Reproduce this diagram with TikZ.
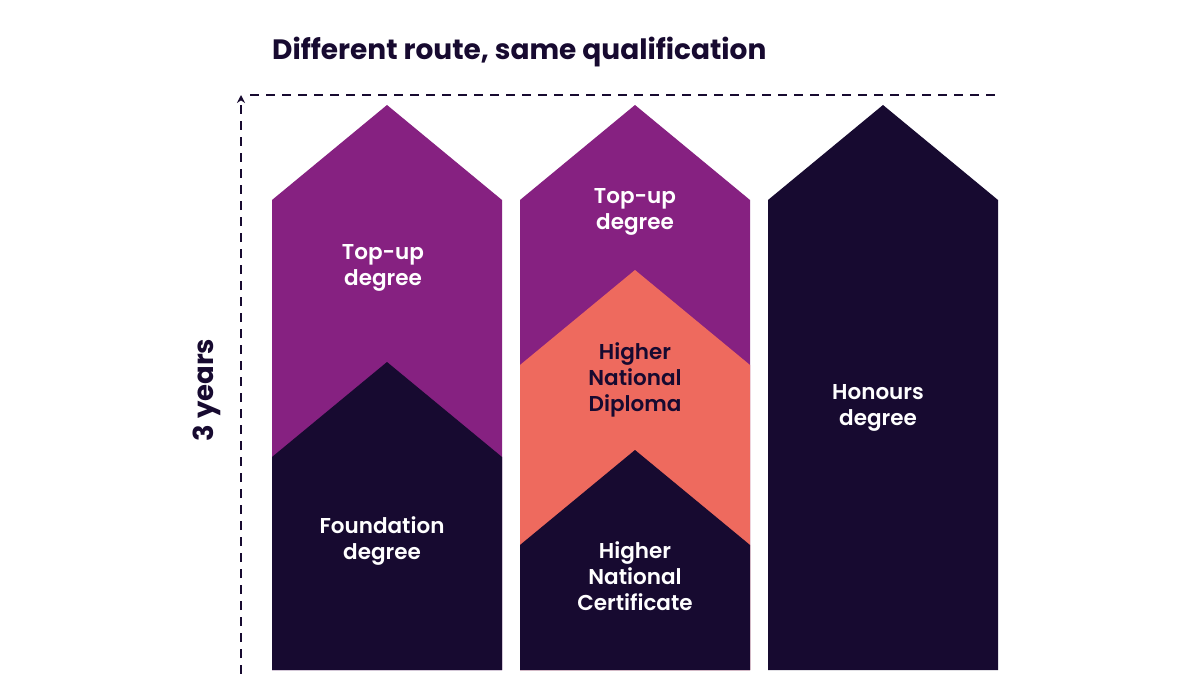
\documentclass[tikz,border=0pt]{standalone}
\usepackage{fontspec}
\setmainfont{Poppins}
\newfontfamily\semib{Poppins SemiBold}
\newfontfamily\boldp{Poppins Bold}
\usetikzlibrary{arrows.meta}
\definecolor{purp}{HTML}{862181}
\definecolor{navy}{HTML}{170A30}
\definecolor{salmon}{HTML}{EE6A5E}
\begin{document}
\begin{tikzpicture}[x=1pt,y=-1pt,
  lbl/.style={font=\semib\fontsize{21.5}{26}\selectfont, align=center, text=white, inner sep=0pt},
  axis/.style={navy, line width=2.5pt, dash pattern=on 9pt off 7pt}]
\useasboundingbox (0,0) rectangle (1200,674);
\fill[white] (0,0) rectangle (1200,674);
% column 1
\fill[purp] (272,670) -- (272,200) -- (387,105) -- (502,200) -- (502,670) -- cycle;
\fill[navy] (272,670) -- (272,457) -- (387,362) -- (502,457) -- (502,670) -- cycle;
% column 2
\fill[purp] (520,670) -- (520,200) -- (635,105) -- (750,200) -- (750,670) -- cycle;
\fill[salmon] (520,670) -- (520,365) -- (635,270) -- (750,365) -- (750,670) -- cycle;
\fill[navy] (520,670) -- (520,545) -- (635,450) -- (750,545) -- (750,670) -- cycle;
% column 3
\fill[navy] (768,670) -- (768,200) -- (883,105) -- (998,200) -- (998,670) -- cycle;
% labels
\node[lbl] (top1) at (383,268) {Top-up\\degree};
\node[lbl] (found) at (382,541) {Foundation\\degree};
\node[lbl] (top2) at (635,212) {Top-up\\degree};
\node[lbl, text=navy] (hnd) at (635,380) {Higher\\National\\Diploma};
\node[lbl] (hnc) at (635,576) {Higher\\National\\Certificate};
\node[lbl] (hon) at (878,408) {Honours\\degree};
% title and axis
\node[font=\boldp\fontsize{28}{32}\selectfont, text=navy, anchor=base west, inner sep=0pt] (title) at (272,60) {Different route, same qualification};
\node[font=\boldp\fontsize{27.5}{30}\selectfont, text=navy, rotate=90, inner sep=0pt] (yrs) at (207,390) {3 years};
\coordinate (ybot) at (241,674);
\coordinate (ytop) at (241,95);
\coordinate (xl) at (250,95);
\coordinate (xr) at (1000,95);
\draw[axis, -{Stealth[length=8pt,width=8pt]}] (ybot) -- (ytop);
\draw[axis] (xl) -- (xr);
\end{tikzpicture}
\end{document}
